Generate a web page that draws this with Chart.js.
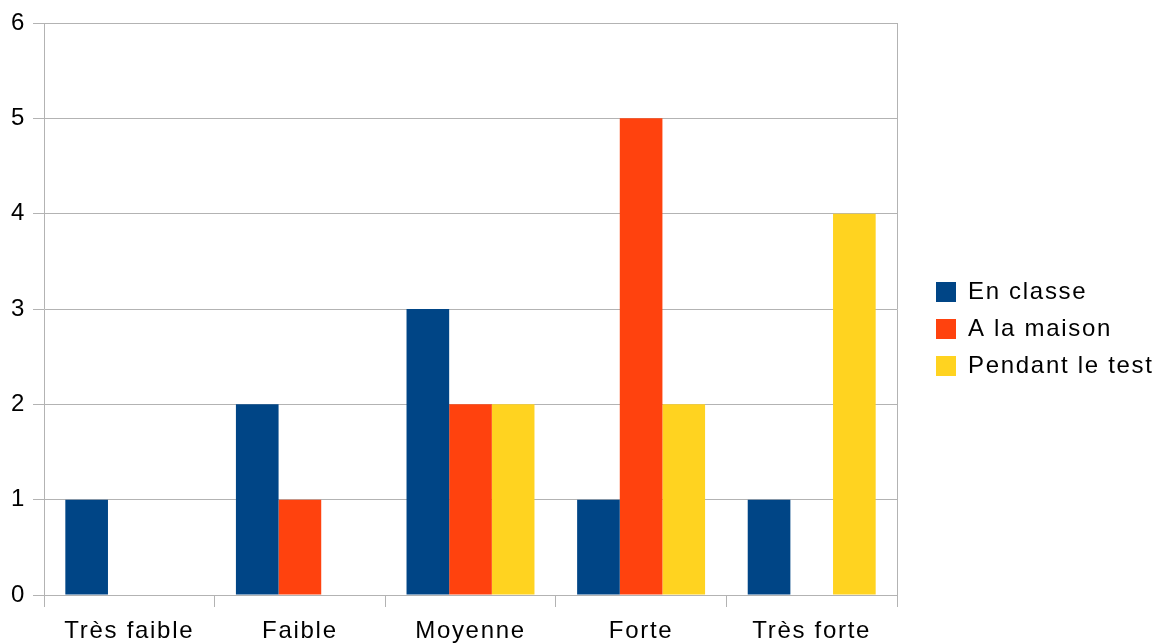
<!DOCTYPE html>
<html><head><meta charset="utf-8">
<script src="https://cdn.jsdelivr.net/npm/chart.js@4/dist/chart.umd.min.js"></script>
<style>html,body{margin:0;padding:0;background:#fff}#wrap{width:1160px;height:643px}</style>
</head><body><div id="wrap"><canvas id="c" width="1160" height="643"></canvas></div>
<script>
const categories = ["Très faible", "Faible", "Moyenne", "Forte", "Très forte"];
const seriesNames = ["En classe", "A la maison", "Pendant le test"];
const enClasse = [1, 2, 3, 1, 1];
const aLaMaison = [0, 1, 2, 5, 0];
const pendantLeTest = [0, 0, 2, 2, 4];
const yTicks = [0, 1, 2, 3, 4, 5, 6];
const colors = ["#004586", "#ff420e", "#ffd320"];
const gridColor = "#b3b3b3";

Chart.defaults.font.family = "'Liberation Sans', Arial, sans-serif";
Chart.defaults.color = "#000";

const spacing = {
  id: 'spacing',
  beforeLayout(chart) {
    chart.ctx.letterSpacing = '1.7px';
    const L = chart.legend;
    if (L && !L.__patched) {
      const origFit = L.fit;
      L.fit = function () { origFit.call(this); this.width = 237; };
      const origDraw = L.draw;
      L.draw = function () {
        const ctx = this.ctx;
        ctx.save();
        ctx.translate(0, -4);
        origDraw.call(this);
        ctx.restore();
      };
      L.__patched = true;
    }
  },
  beforeDraw(chart) { chart.ctx.letterSpacing = '1.7px'; }
};

new Chart(document.getElementById('c'), {
  type: 'bar',
  data: {
    labels: categories,
    datasets: [enClasse, aLaMaison, pendantLeTest].map((d, i) => ({
      label: seriesNames[i], data: d, backgroundColor: colors[i],
      borderWidth: 0, barPercentage: 1.0, categoryPercentage: 0.75
    }))
  },
  plugins: [spacing],
  options: {
    responsive: false, animation: false,
    layout: { padding: { top: 23, right: 0, left: 0, bottom: 0 } },
    plugins: {
      legend: {
        position: 'right',
        labels: { font: { size: 24 }, boxWidth: 20, boxHeight: 20, padding: 13, color: '#000' }
      },
      tooltip: { enabled: false }
    },
    scales: {
      x: {
        offset: true,
        grid: { offset: true, drawOnChartArea: false, tickColor: gridColor, tickLength: 12 },
        border: { color: gridColor },
        ticks: { font: { size: 24 }, padding: 10, color: '#000', maxRotation: 0 },
        afterFit: s => { s.height = 48; }
      },
      y: {
        min: 0, max: 6,
        afterBuildTicks: s => { s.ticks = yTicks.map(v => ({ value: v })); },
        grid: { color: gridColor, tickLength: 11 },
        border: { color: gridColor },
        ticks: { font: { size: 24 }, padding: 7, color: '#000' },
        afterFit: s => { s.width = 44; }
      },
      y2: {
        position: 'right', min: 0, max: 6,
        grid: { drawOnChartArea: false, drawTicks: false },
        border: { color: gridColor },
        ticks: { display: false },
        afterFit: s => { s.width = 26; }
      }
    }
  }
});
</script></body></html>
